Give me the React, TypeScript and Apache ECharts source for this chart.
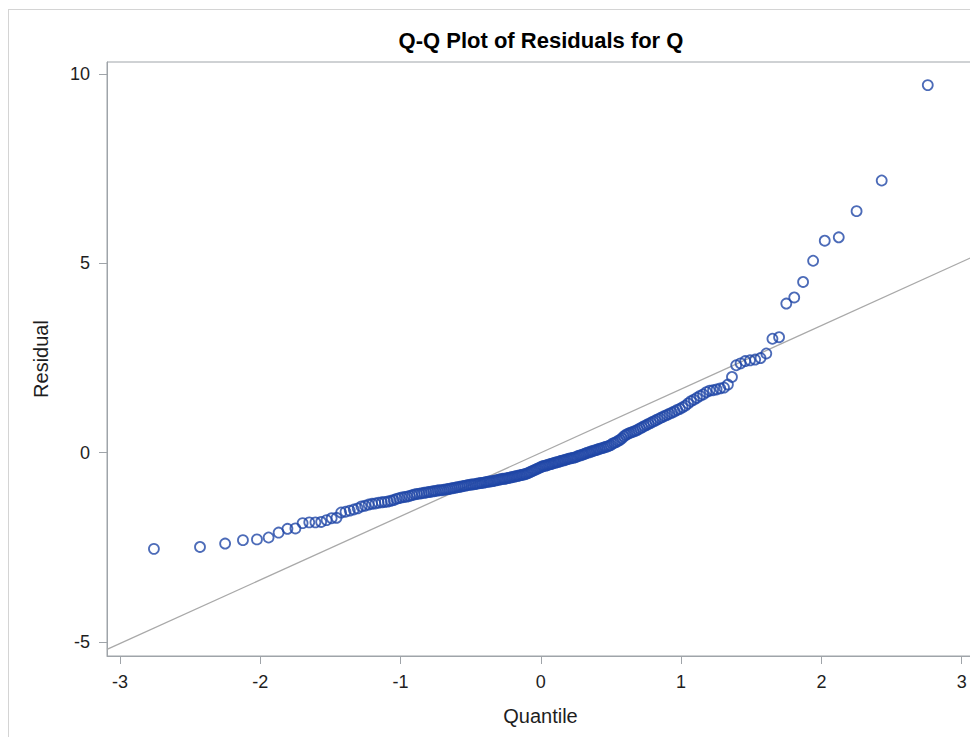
import React, { useEffect, useRef } from "react";
import * as echarts from "echarts";

// Residuals (sorted order)
const residuals: number[] = [
  -2.54, -2.49, -2.40, -2.31, -2.29, -2.24, -2.11, -2.01, -2.00, -1.86,
  -1.84, -1.84, -1.83, -1.78, -1.73, -1.72, -1.58, -1.56, -1.53, -1.50,
  -1.47, -1.42, -1.40, -1.37, -1.35, -1.34, -1.32, -1.31, -1.30, -1.29,
  -1.27, -1.25, -1.22, -1.20, -1.18, -1.17, -1.16, -1.14, -1.12, -1.10,
  -1.09, -1.08, -1.07, -1.06, -1.05, -1.04,
  -1.03, -1.02, -1.01, -1.00, -0.99, -0.99, -0.98, -0.97, -0.96, -0.95,
  -0.94, -0.93, -0.92, -0.91, -0.90, -0.89, -0.88, -0.87, -0.86, -0.85,
  -0.84, -0.84, -0.83, -0.82, -0.81, -0.80, -0.80, -0.79, -0.78, -0.77,
  -0.76, -0.76, -0.75, -0.74, -0.73, -0.72, -0.71, -0.70, -0.69, -0.69, -0.68,
  -0.67, -0.66, -0.65, -0.64, -0.63, -0.62, -0.61, -0.60, -0.59, -0.58,
  -0.57, -0.56, -0.54, -0.52, -0.50, -0.48, -0.46, -0.44, -0.42, -0.40, -0.38,
  -0.36, -0.35, -0.34, -0.33, -0.31, -0.30, -0.29, -0.27, -0.26, -0.25,
  -0.24, -0.22, -0.21, -0.20, -0.19, -0.17, -0.16, -0.15, -0.14, -0.13, -0.12,
  -0.10, -0.08, -0.07, -0.05, -0.04, -0.02, 0.00, 0.01, 0.03, 0.04,
  0.06, 0.07, 0.09, 0.10, 0.12, 0.13, 0.15, 0.16, 0.18, 0.20,
  0.24, 0.26, 0.28, 0.31, 0.34, 0.38, 0.43, 0.47, 0.50, 0.52,
  0.54, 0.56, 0.58, 0.61, 0.64, 0.67, 0.70,
  0.73, 0.76, 0.79, 0.82, 0.85, 0.88, 0.91, 0.94, 0.97, 1.00, 1.03, 1.06, 1.09,
  1.13, 1.16, 1.20, 1.24, 1.30, 1.36, 1.40, 1.45, 1.50, 1.54,
  1.60, 1.64, 1.65, 1.67, 1.70, 1.72, 1.80, 2.00,
  2.31, 2.36, 2.42, 2.44, 2.46, 2.50, 2.62, 3.01, 3.05, 3.94,
  4.10, 4.51, 5.07, 5.60, 5.69, 6.38, 7.19, 9.71,
];

const xTickValues = [-3, -2, -1, 0, 1, 2, 3];
const yTickValues = [-5, 0, 5, 10];
const xRange = [-3.093, 3.088];
const yRange = [-5.37, 10.32];
const refIntercept = 0;
const refSlope = 1.68;

const titleText = "Q-Q Plot of Residuals for Q";
const xName = "Quantile";
const yName = "Residual";

const FONT = "'Liberation Sans', Arial, Helvetica, sans-serif";
const AXIS_COLOR = "#9fa4a9";
const TEXT_COLOR = "#1e1e1e";
const MARKER_COLOR = "#1f46a6";

// Inverse standard normal CDF (Acklam)
function normInv(p: number): number {
  const a = [-39.69683028665376, 220.9460984245205, -275.9285104469687, 138.357751867269, -30.66479806614716, 2.506628277459239];
  const b = [-54.47609879822406, 161.5858368580409, -155.6989798598866, 66.80131188771972, -13.28068155288572];
  const c = [-0.007784894002430293, -0.3223964580411365, -2.400758277161838, -2.549732539343734, 4.374664141464968, 2.938163982698783];
  const d = [0.007784695709041462, 0.3224671290700398, 2.445134137142996, 3.754408661907416];
  const plow = 0.02425;
  if (p < plow) {
    const q = Math.sqrt(-2 * Math.log(p));
    return (((((c[0] * q + c[1]) * q + c[2]) * q + c[3]) * q + c[4]) * q + c[5]) /
      ((((d[0] * q + d[1]) * q + d[2]) * q + d[3]) * q + 1);
  }
  if (p <= 1 - plow) {
    const q = p - 0.5;
    const r = q * q;
    return ((((((a[0] * r + a[1]) * r + a[2]) * r + a[3]) * r + a[4]) * r + a[5]) * q) /
      (((((b[0] * r + b[1]) * r + b[2]) * r + b[3]) * r + b[4]) * r + 1);
  }
  const q = Math.sqrt(-2 * Math.log(1 - p));
  return -(((((c[0] * q + c[1]) * q + c[2]) * q + c[3]) * q + c[4]) * q + c[5]) /
    ((((d[0] * q + d[1]) * q + d[2]) * q + d[3]) * q + 1);
}

export default function App() {
  const ref = useRef<HTMLDivElement>(null);

  useEffect(() => {
    if (!ref.current) return;
    const chart = echarts.init(ref.current, null, { renderer: "svg" });
    const sorted = [...residuals].sort((a, b) => a - b);
    const n = sorted.length;
    const points = sorted.map((r, i) => [normInv((i + 1 - 0.375) / (n + 0.25)), r]);
    const refLine = xRange.map((x) => [x, refIntercept + refSlope * x]);

    chart.setOption({
      animation: false,
      backgroundColor: "#ffffff",
      title: {
        text: titleText,
        left: 533,
        top: 21,
        padding: 0,
        textAlign: "center",
        textStyle: { fontFamily: FONT, fontSize: 22, fontWeight: "bold", color: "#000000" },
      },
      graphic: [
        { type: "line", shape: { x1: 0.5, y1: 1.5, x2: 0.5, y2: 729 }, style: { stroke: "#d4d4d4", lineWidth: 1 }, silent: true },
        { type: "line", shape: { x1: 0, y1: 1.5, x2: 970, y2: 1.5 }, style: { stroke: "#d4d4d4", lineWidth: 1 }, silent: true },
      ],
      grid: {
        left: 99,
        right: 4,
        top: 54,
        bottom: 81,
        show: true,
        borderColor: AXIS_COLOR,
        borderWidth: 1,
        backgroundColor: "transparent",
      },
      xAxis: {
        type: "value",
        min: xRange[0],
        max: xRange[1],
        name: xName,
        nameLocation: "middle",
        nameGap: 50,
        nameTextStyle: { fontFamily: FONT, fontSize: 20, color: TEXT_COLOR },
        axisLine: { show: true, onZero: false, lineStyle: { color: AXIS_COLOR, width: 1 } },
        axisTick: { show: true, length: 8, inside: false, customValues: xTickValues, lineStyle: { color: AXIS_COLOR, width: 1 } },
        axisLabel: { customValues: xTickValues, margin: 17, fontFamily: FONT, fontSize: 18, color: TEXT_COLOR },
        splitLine: { show: false },
      },
      yAxis: {
        type: "value",
        min: yRange[0],
        max: yRange[1],
        name: yName,
        nameLocation: "middle",
        nameRotate: 90,
        nameGap: 56,
        nameTextStyle: { fontFamily: FONT, fontSize: 20, color: TEXT_COLOR },
        axisLine: { show: true, onZero: false, lineStyle: { color: AXIS_COLOR, width: 1 } },
        axisTick: { show: true, length: 8, inside: false, customValues: yTickValues, lineStyle: { color: AXIS_COLOR, width: 1 } },
        axisLabel: { customValues: yTickValues, margin: 17, fontFamily: FONT, fontSize: 18, color: TEXT_COLOR },
        splitLine: { show: false },
      },
      series: [
        {
          type: "line",
          data: refLine,
          showSymbol: false,
          symbol: "none",
          silent: true,
          lineStyle: { color: "#a9a9a9", width: 1.3 },
          z: 1,
        },
        {
          type: "scatter",
          data: points,
          symbol: "circle",
          symbolSize: 10,
          itemStyle: { color: "rgba(0,0,0,0)", borderColor: MARKER_COLOR, borderWidth: 1.8 },
          z: 2,
        },
      ],
    });

    return () => chart.dispose();
  }, []);

  return <div ref={ref} style={{ width: 970, height: 729 }} />;
}
